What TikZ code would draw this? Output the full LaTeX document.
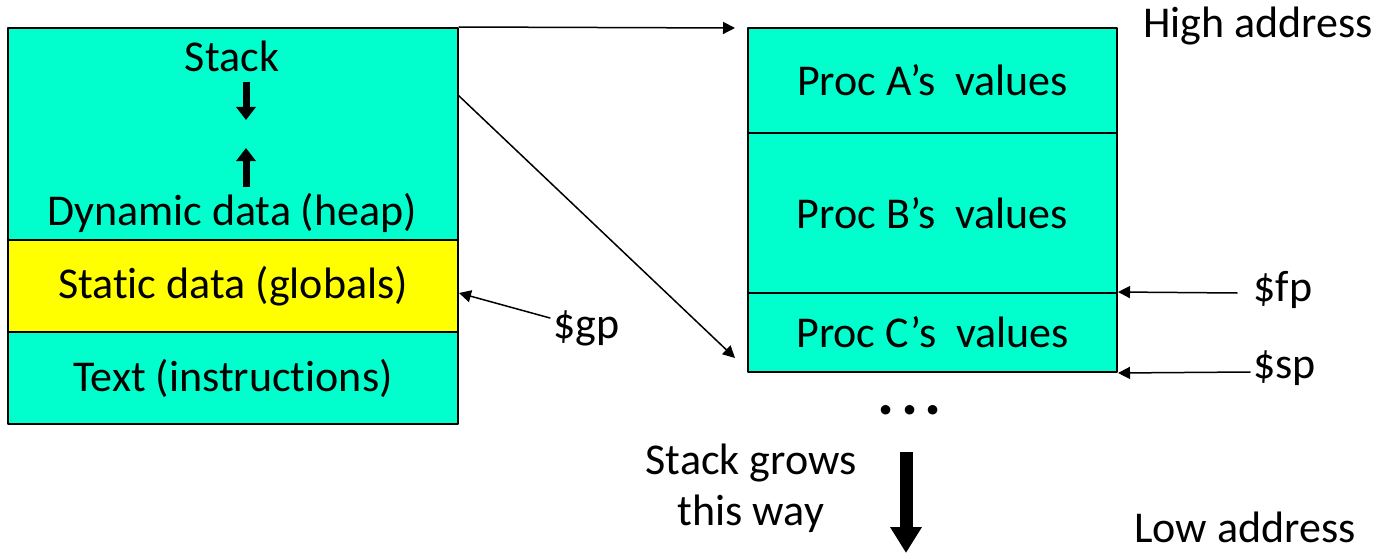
\documentclass[tikz,border=0pt]{standalone}
\usepackage{fontspec}
\setmainfont[Ligatures=NoCommon]{Carlito}
\usetikzlibrary{arrows.meta}
\definecolor{qqffcc}{rgb}{0,1,0.8}
\definecolor{ffffqq}{rgb}{1,1,0}

\begin{document}
\begin{tikzpicture}[line cap=round,line join=round,x=0.5pt,y=-0.5pt,
	font=\fontsize{22}{25.5}\selectfont,
	seg/.style={draw,line width=1pt,minimum width=225pt,inner sep=0pt},
	frame/.style={draw,line width=1pt,fill=qqffcc,minimum width=184.5pt,inner sep=0pt},
	ptr/.style={-{Triangle[length=6pt,width=6pt]},line width=0.75pt},
	fat/.style={-{Triangle[length=6.5pt,width=9.5pt]},line width=3.5pt,line cap=butt},
	growarrow/.style={-{Triangle[length=13pt,width=15pt]},line width=6.5pt,line cap=butt}]
	\useasboundingbox (0,0) rectangle (1381,556);
	% memory layout
	\node[seg,fill=qqffcc,minimum height=106pt] (heap) at (233,134) {};
	\node[seg,fill=ffffqq,minimum height=46pt] (static) at (233,286) {Static data (globals)};
	\node[seg,fill=qqffcc,minimum height=46pt] (text) at (233,378) {Text (instructions)};
	\node (stk) at (232,56) {Stack};
	\node (dyn) at (232,213) {Dynamic data (heap)};
	\draw[fat] (246,82) -- (246,120);
	\draw[fat] (246,187) -- (246,148);
	% stack frames
	\node[frame,minimum height=52.5pt] (procA) at (932.5,80.5) {Proc A’s\ \ values};
	\node[frame,minimum height=80pt] (procB) at (932.5,213) {Proc B’s\ \ values};
	\node[frame,minimum height=39.5pt] (procC) at (932.5,332.5) {Proc C’s\ \ values};
	\node[font=\fontsize{32}{32}\selectfont\bfseries,inner sep=0pt] (dots) at (910,410) {.\hspace{3.2pt}.\hspace{3.2pt}.};
	% zoom lines
	\coordinate (topend) at (735,28);
	\coordinate (diag) at (458,95);
	\coordinate (diagend) at (735,358);
	\draw[ptr] (heap.north east) -- (topend);
	\draw[ptr] (diag) -- (diagend);
	% registers
	\node[anchor=west,inner sep=0pt] (gp) at (553,328) {\$gp};
	\node[anchor=west,inner sep=0pt] (fp) at (1253,290) {\$fp};
	\node[anchor=west,inner sep=0pt] (sp) at (1253,368) {\$sp};
	\coordinate (fptail) at (1237,293);
	\coordinate (sptail) at (1250,372);
	\draw[ptr] (550,318) -- ([yshift=-3.5pt]static.east);
	\draw[ptr] (fptail) -- (procC.north east);
	\draw[ptr] (sptail) -- (procC.south east);
	% addresses and growth
	\node (high) at (1258,26) {High address};
	\node (low) at (1245,527) {Low address};
	\node[align=center] (growtxt) at (751,488) {Stack grows\\this way};
	\coordinate (growtop) at (906,452);
	\coordinate (growend) at (906,553);
	\draw[growarrow] (growtop) -- (growend);
\end{tikzpicture}
\end{document}
